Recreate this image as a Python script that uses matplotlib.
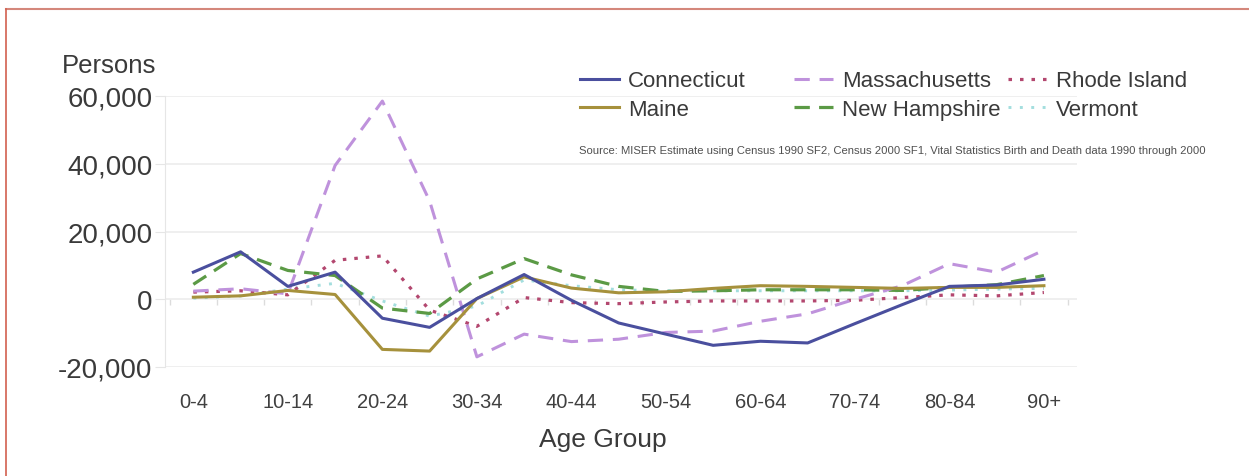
import matplotlib
matplotlib.use("Agg")
import matplotlib.pyplot as plt
from matplotlib.lines import Line2D
import numpy as np

plt.rcParams['font.family'] = ['Liberation Sans', 'DejaVu Sans']

# --- data (net migration by age group, persons) ---
age_groups = ['0-4', '5-9', '10-14', '15-19', '20-24', '25-29', '30-34', '35-39', '40-44',
              '45-49', '50-54', '55-59', '60-64', '65-69', '70-74', '75-79', '80-84', '85-89', '90+']
connecticut = [8000, 14000, 3800, 8000, -5600, -8300, 200, 7300, -300, -7000,
               -10300, -13600, -12400, -12900, -7200, -1600, 3800, 4200, 5900]
maine = [600, 1000, 2600, 1400, -14800, -15300, 200, 6600, 3300, 1900,
         2200, 3200, 4000, 3800, 3500, 3200, 3500, 3500, 4000]
massachusetts = [2400, 3100, 1600, 39500, 58500, 29000, -17000, -10300, -12500, -11800,
                 -9800, -9400, -6500, -4300, 0, 4000, 10500, 8000, 14500]
rhode_island = [2100, 2500, 1300, 11500, 12800, -3200, -8000, 500, -1000, -1300,
                -800, -500, -500, -500, -300, 500, 1300, 1000, 2000]
new_hampshire = [4400, 13500, 8500, 7000, -2600, -4200, 6000, 12000, 7200, 3800,
                 2300, 2500, 2800, 2800, 2800, 2600, 3500, 4300, 7000]
vermont = [300, 1000, 3000, 4700, -500, -5000, -2000, 5700, 4000, 2800,
           2500, 2500, 2500, 2500, 2500, 2500, 2700, 3000, 3200]

x = np.arange(len(age_groups))

W, H = 1249, 477
fig = plt.figure(figsize=(W / 100, H / 100), dpi=100)
ax = fig.add_axes([165 / W, 1 - 368 / H, 912 / W, 271 / H])

styles = {
    'Connecticut': dict(color='#4a4f9e', lw=2.2, ls='-'),
    'Maine': dict(color='#a6913c', lw=2.2, ls='-'),
    'Massachusetts': dict(color='#bf92dc', lw=2.2, ls=(0, (5.0, 3.2))),
    'New Hampshire': dict(color='#5b9a45', lw=2.3, ls=(0, (4.8, 2.9))),
    'Rhode Island': dict(color='#b3476f', lw=2.3, ls=(0, (1.1, 2.5))),
    'Vermont': dict(color='#a3dede', lw=2.1, ls=(0, (1.0, 2.9))),
}
series = {
    'Connecticut': connecticut,
    'Maine': maine,
    'Massachusetts': massachusetts,
    'New Hampshire': new_hampshire,
    'Rhode Island': rhode_island,
    'Vermont': vermont,
}

lines = {}
for name in ['Vermont', 'Rhode Island', 'New Hampshire', 'Massachusetts', 'Maine', 'Connecticut']:
    lines[name], = ax.plot(x, series[name], label=name, **styles[name])

ax.set_xlim(-0.6, 18.7)
ax.set_ylim(-20000, 60000)
ax.set_yticks([-20000, 0, 20000, 40000, 60000])
ax.set_yticklabels(['-20,000', '0', '20,000', '40,000', '60,000'])
ax.set_xticks(x[::2])
ax.set_xticklabels(age_groups[::2], fontsize=14.5, color='#404040')
ax.tick_params(axis='x', length=0, pad=18)
ax.tick_params(axis='y', labelsize=20, labelcolor='#3a3a3a', length=7, color='#e6e6e6', pad=2)
ax.grid(axis='y', color='#ececec', lw=1.2)
ax.set_axisbelow(True)
for s in ['top', 'right', 'bottom']:
    ax.spines[s].set_visible(False)
ax.spines['left'].set_color('#e6e6e6')

# small tick marks on the zero line at the category boundaries
sec = ax.secondary_xaxis(0, transform=ax.transData)
sec.set_xticks(np.arange(-0.5, 18.6, 1.0))
sec.set_xticklabels([])
sec.tick_params(length=4, color='#dcdcdc', width=1)
sec.spines['bottom'].set_visible(False)

fig.text(62 / W, 1 - 66 / H, 'Persons', fontsize=18.5, color='#3a3a3a', ha='left', va='center')
fig.text(603 / W, 1 - 440 / H, 'Age Group', fontsize=19, color='#3a3a3a', ha='center', va='center')

# legend: three columns of two entries
cols = [(['Connecticut', 'Maine'], 580), (['Massachusetts', 'New Hampshire'], 794),
        (['Rhode Island', 'Vermont'], 1008)]
for names, xl in cols:
    leg = fig.legend([lines[n] for n in names], names, loc='center left',
                     bbox_to_anchor=(xl / W, 1 - 96 / H), frameon=False, fontsize=16,
                     handlelength=1.75, handletextpad=0.4, labelspacing=0.32,
                     borderpad=0, borderaxespad=0, labelcolor='#3a3a3a')

fig.text(579 / W, 1 - 151 / H,
         'Source: MISER Estimate using Census 1990 SF2, Census 2000 SF1, Vital Statistics Birth and Death data 1990 through 2000',
         fontsize=8.15, color='#505050', ha='left', va='center')

# reddish frame lines (top and left)
fig.add_artist(Line2D([6 / W, 1], [1 - 10 / H, 1 - 10 / H], color='#d4877b', lw=1.5))
fig.add_artist(Line2D([6 / W, 6 / W], [0, 1 - 10 / H], color='#d2604f', lw=1.2))

fig.savefig('out.png', dpi=100, facecolor='white')
